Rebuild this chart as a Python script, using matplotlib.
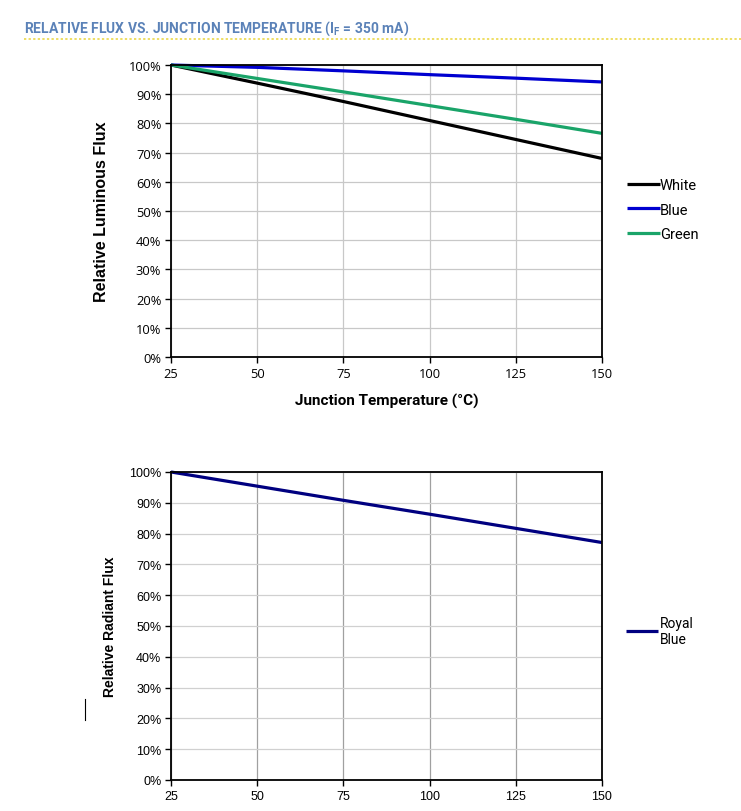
import numpy as np
import matplotlib.pyplot as plt
from matplotlib.lines import Line2D
from matplotlib.ticker import PercentFormatter

# temperatures (°C) and relative flux (%)
temps = [25, 50, 75, 100, 125, 150]
white = [100, 93.8, 87.5, 81.0, 74.5, 68.0]
blue = [100, 99.2, 98.0, 96.7, 95.5, 94.2]
green = [100, 95.4, 90.8, 86.1, 81.4, 76.6]
royal_blue = [100, 95.4, 90.8, 86.3, 81.7, 77.1]

y_ticks = list(range(0, 101, 10))

plt.rcParams['font.family'] = ['Roboto', 'DejaVu Sans']

fig = plt.figure(figsize=(7.41, 8.12), dpi=100)

# header like the datasheet section title
fig.text(0.032, 0.965, 'RELATIVE FLUX VS. JUNCTION TEMPERATURE (I$_\\mathregular{F}$ = 350 mA)',
         color='#5b82b8', fontsize=10, fontweight='bold', va='center', stretch='condensed')
fig.add_artist(Line2D([0.032, 1.0], [0.951, 0.951], color='#ead53a', lw=1.1, ls=(0, (1.5, 1.5))))
# stray mark at left of lower chart
fig.add_artist(Line2D([0.115, 0.115], [0.112, 0.138], color='black', lw=0.8))


def style_axes(ax, grid_color, tick_font, tick_size):
    ax.set_xlim(25, 150)
    ax.set_ylim(0, 100)
    ax.set_xticks(temps)
    ax.set_yticks(y_ticks)
    ax.yaxis.set_major_formatter(PercentFormatter(decimals=0))
    ax.grid(True, color=grid_color, lw=0.9)
    ax.set_axisbelow(True)
    for s in ax.spines.values():
        s.set_color('black')
        s.set_linewidth(1.3)
    ax.tick_params(axis='both', labelsize=tick_size, direction='out', length=4, width=1,
                   color='black', pad=3)
    ax.tick_params(axis='x', pad=3.5)
    for lbl in ax.get_xticklabels() + ax.get_yticklabels():
        lbl.set_fontfamily(tick_font)


# --- top chart: luminous flux ---
ax1 = fig.add_axes([0.2308, 0.5591, 0.5816, 0.3596])
ax1.plot(temps, white, color='black', lw=2.3, label='White', clip_on=False, solid_capstyle='butt')
ax1.plot(temps, blue, color='#0000d0', lw=2.3, label='Blue', clip_on=False, solid_capstyle='butt')
ax1.plot(temps, green, color='#1aa469', lw=2.3, label='Green', clip_on=False, solid_capstyle='butt')
style_axes(ax1, '#c8c8c8', ['Open Sans', 'DejaVu Sans'], 9.3)
ax1.set_ylabel('Relative Luminous Flux', fontsize=11.5, fontweight='bold', labelpad=14,
               fontfamily=['Liberation Sans', 'DejaVu Sans'])
ax1.set_xlabel('Junction Temperature (°C)', fontsize=11, fontweight='bold', labelpad=9)
ax1.legend(loc='center left', bbox_to_anchor=(1.04, 0.505), frameon=False, fontsize=10.5,
           handlelength=2.3, handletextpad=0.0, labelspacing=0.72, borderpad=0)

# --- bottom chart: radiant flux ---
ax2 = fig.add_axes([0.2308, 0.0382, 0.5816, 0.3793])
ax2.plot(temps, royal_blue, color='#000080', lw=2.3, label='Royal\nBlue', clip_on=False,
         solid_capstyle='butt')
style_axes(ax2, '#a0a0a0', ['Liberation Sans', 'DejaVu Sans'], 9)
ax2.grid(True, axis='y', color='#d0d0d0', lw=0.9)
ax2.set_ylabel('Relative Radiant Flux', fontsize=10, fontweight='bold', labelpad=9,
               fontfamily=['Liberation Sans', 'DejaVu Sans'])
ax2.legend(loc='center left', bbox_to_anchor=(1.04, 0.485), frameon=False, fontsize=10,
           handlelength=2.3, handletextpad=0.1, borderpad=0)

fig.savefig('out.png', dpi=100)
